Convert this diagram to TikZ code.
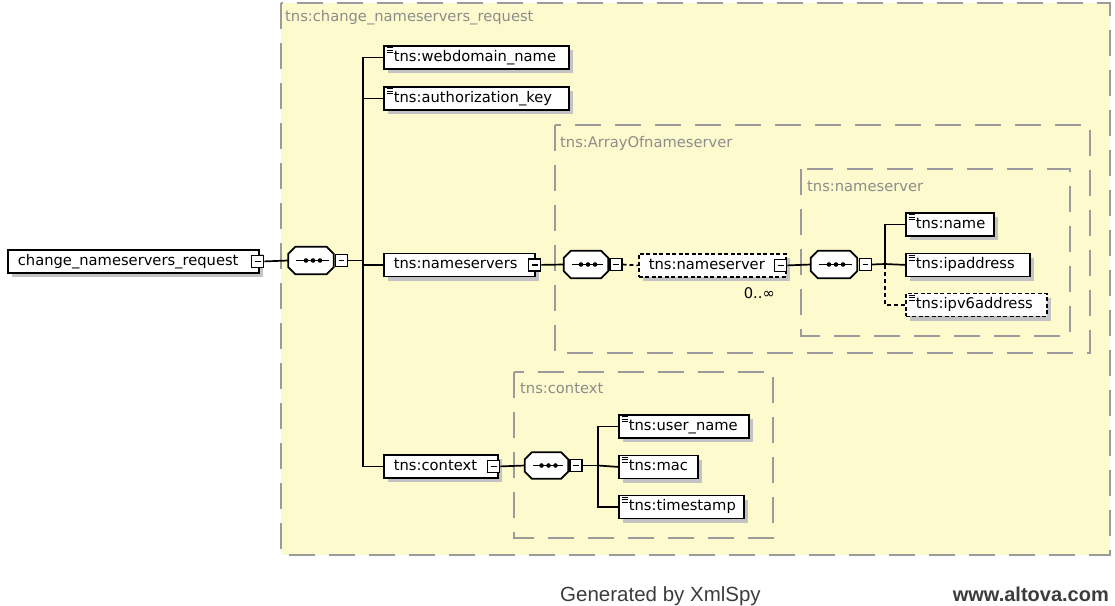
\documentclass[tikz,border=0pt]{standalone}
\usepackage{fontspec}
\newfontfamily\xs{DejaVu Sans}
\newfontfamily\ar{Liberation Sans}
\usetikzlibrary{shadows}
\definecolor{frameyellow}{RGB}{253,251,205}
\definecolor{framegray}{RGB}{155,155,155}
\definecolor{labelgray}{RGB}{140,140,140}
\definecolor{shadowgray}{RGB}{195,195,195}
\definecolor{footgray}{RGB}{60,60,60}
\newcommand{\et}[2]{\makebox[#1pt][l]{\hspace*{10pt}#2}}
\newcommand{\elicon}[1]{%
  \foreach \dy in {2.8,5.3,7.8}{\draw[line width=1pt] ([shift={(3.5pt,-\dy pt)}]#1.north west) -- ++(6pt,0pt);}}
\newcommand{\octpath}[1]{([xshift=7pt]#1.north west) -- ([xshift=-7pt]#1.north east) -- ([yshift=-7pt]#1.north east) -- ([yshift=7pt]#1.south east) -- ([xshift=-7pt]#1.south east) -- ([xshift=7pt]#1.south west) -- ([yshift=7pt]#1.south west) -- ([yshift=-7pt]#1.north west) -- cycle}
\newcommand{\seqdraw}[1]{%
  \fill[shadowgray, shift={(4.5pt,-4.5pt)}] \octpath{#1};
  \filldraw[fill=white, draw=black, line width=1.8pt] \octpath{#1};
  \draw[line width=1.7pt] ([xshift=8pt]#1.west) -- ([xshift=-5pt]#1.east);
  \foreach \dx in {-5,2,9}{\fill ([xshift=\dx pt]#1.center) circle (2.3pt);}}
\tikzset{
  frame/.style={draw=framegray, line width=2pt, dash pattern=on 26pt off 14pt},
  framelabel/.style={font=\xs\fontsize{14.7}{16}\selectfont, text=labelgray, anchor=west, inner sep=0pt},
  elem/.style={draw=black, line width=1.8pt, fill=white, font=\xs\fontsize{14.7}{16}\selectfont,
    inner xsep=0pt, inner ysep=0pt, minimum height=23pt, text height=11pt, text depth=3.5pt,
    anchor=north west, drop shadow={shadow xshift=4.5pt, shadow yshift=-4.5pt, fill=shadowgray, opacity=1}},
  optelem/.style={elem, dash pattern=on 4pt off 2.5pt},
  seqnode/.style={rectangle, draw=none, inner sep=0pt, minimum width=45pt, minimum height=27pt},
  minusbox/.style={draw=black, fill=white, line width=1.3pt, minimum size=12pt, inner sep=0pt,
    path picture={\draw[line width=1.2pt] ([xshift=-2.8pt]path picture bounding box.center) -- ([xshift=2.8pt]path picture bounding box.center);}},
  conn/.style={draw=black, line width=1.7pt},
  optconn/.style={conn, dash pattern=on 4pt off 3pt},
}
\begin{document}
\begin{tikzpicture}[x=1pt,y=-1pt]
\useasboundingbox (0,0) rectangle (1115,605);
% frames
\filldraw[frame, fill=frameyellow] (281,3) rectangle (1110,555);
\node[framelabel] (lbl0) at (285,18) {tns:change\_nameservers\_request};
\draw[frame] (555,125) rectangle (1090,353);
\node[framelabel] (lbl1) at (560,143) {tns:ArrayOfnameserver};
\draw[frame] (801,169) rectangle (1070,336);
\node[framelabel] (lbl2) at (807,186) {tns:nameserver};
\draw[frame] (514,372) rectangle (773,538);
\node[framelabel] (lbl3) at (520,388) {tns:context};

% root
\node[elem] (root) at (7,249) {\et{251}{change\_nameservers\_request}};
\node[minusbox] (rootm) at ([xshift=-2pt]root.east) {};
\node[seqnode] (s1) at (311,260.5) {};
\seqdraw{s1}
\node[minusbox, anchor=west] (s1m) at ([xshift=1pt]s1.east) {};
\coordinate (bus1) at (363,260.5);
\draw[conn] (rootm.east) -- (s1.west);
\draw[conn] (s1m.east) -- (bus1);

% level 1 children
\node[elem] (web) at (383,45) {\et{185}{tns:webdomain\_name}};
\elicon{web}
\node[elem] (auth) at (383,86) {\et{185}{tns:authorization\_key}};
\elicon{auth}
\node[elem] (ns) at (383,252.5) {\et{151}{tns:nameservers}};
\node[minusbox] (nsm) at ([xshift=-1pt]ns.east) {};
\node[elem] (ctx) at (383,454) {\et{114}{tns:context}};
\node[minusbox] (ctxm) at ([xshift=-5pt]ctx.east) {};
\draw[conn] (web.west) -| (bus1);
\draw[conn] (auth.west) -| (bus1);
\draw[conn] (ns.west) -| (bus1);
\draw[conn] (ctx.west) -| (bus1);

% nameservers branch
\node[seqnode, minimum width=44pt] (s2) at (586,264.5) {};
\seqdraw{s2}
\node[minusbox, anchor=west] (s2m) at ([xshift=1pt]s2.east) {};
\draw[conn] (nsm.east) -- (s2.west);
\node[optelem] (nsr) at (638,253) {\et{147}{tns:nameserver}};
\node[minusbox] (nsrm) at ([xshift=-6pt]nsr.east) {};
\draw[optconn] (s2m.east) -- (nsr.west);
\node[font=\xs\fontsize{14.7}{16}\selectfont, anchor=east, inner sep=0pt] (occ) at (775,293) {0..∞};
\node[seqnode, minimum width=46pt] (s3) at (834,264.5) {};
\seqdraw{s3}
\node[minusbox, anchor=west] (s3m) at ([xshift=1.5pt]s3.east) {};
\draw[conn] (nsrm.east) -- (s3.west);
\coordinate (bus3) at (885,264);
\draw[conn] (s3m.east) -- (bus3);
\node[elem] (name) at (905,212) {\et{88}{tns:name}};
\elicon{name}
\node[elem] (ipa) at (905,252.5) {\et{124}{tns:ipaddress}};
\elicon{ipa}
\node[optelem] (ipv6) at (905,292.5) {\et{141}{tns:ipv6address}};
\elicon{ipv6}
\draw[conn] (name.west) -| (bus3);
\draw[conn] (ipa.west) -- (bus3);
\draw[optconn] (ipv6.west) -| (bus3);

% context branch
\node[seqnode, minimum width=43pt, minimum height=26pt] (s4) at (546.5,465.5) {};
\seqdraw{s4}
\node[minusbox, anchor=west] (s4m) at ([xshift=1pt]s4.east) {};
\draw[conn] (ctxm.east) -- (s4.west);
\coordinate (bus4) at (598,465.5);
\draw[conn] (s4m.east) -- (bus4);
\node[elem] (user) at (618,414) {\et{130}{tns:user\_name}};
\elicon{user}
\node[elem] (mac) at (618,454.5) {\et{79}{tns:mac}};
\elicon{mac}
\node[elem] (ts) at (618,494.5) {\et{125}{tns:timestamp}};
\elicon{ts}
\draw[conn] (user.west) -| (bus4);
\draw[conn] (mac.west) -- (bus4);
\draw[conn] (ts.west) -| (bus4);

% footer
\node[font=\ar\fontsize{20.5}{22}\selectfont, text=footgray, anchor=base west, inner sep=0pt] (gen) at (560,601) {Generated by XmlSpy};
\node[font=\ar\bfseries\fontsize{20}{22}\selectfont, text=footgray, anchor=base east, inner sep=0pt] (alt) at (1109,601) {www.altova.com};
\end{tikzpicture}
\end{document}
